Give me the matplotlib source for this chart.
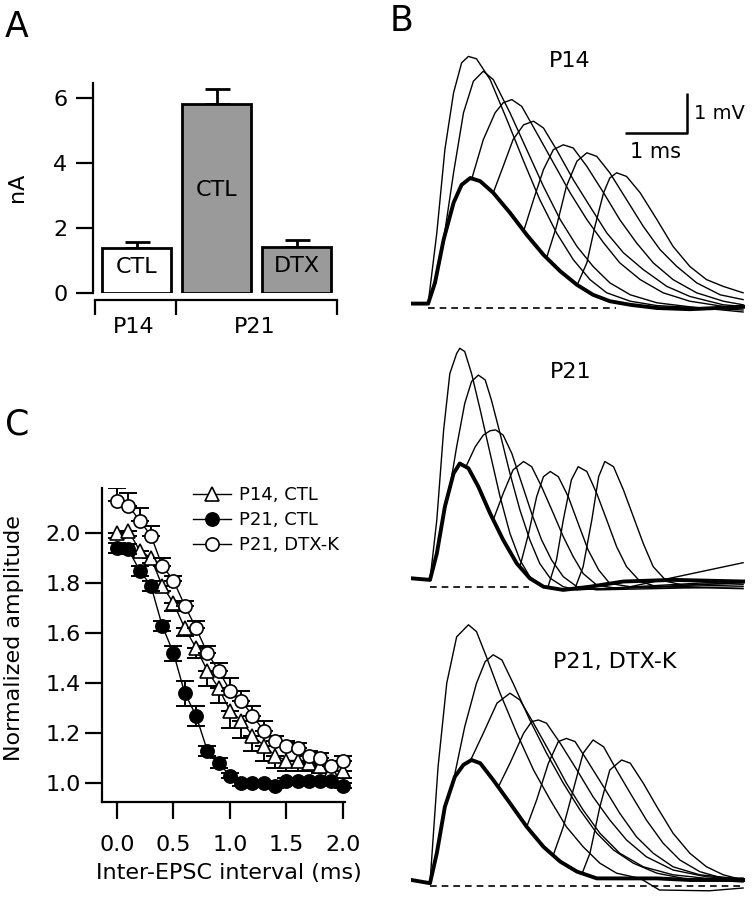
import matplotlib.pyplot as plt

# ---- panel A: peak K current ----
bar_labels = ['CTL', 'CTL', 'DTX']
bar_values = [1.375, 5.815, 1.425]
bar_errors = [0.185, 0.455, 0.205]
bar_colors = ['white', '#9a9a9a', '#9a9a9a']
bar_label_y = [0.8, 3.17, 0.83]
group_names = ['P14', 'P21']
group_centers = [-0.04, 1.48]

# ---- panel C: paired-pulse summation ----
interval_ms = [0.0, 0.1, 0.2, 0.3, 0.4, 0.5, 0.6, 0.7, 0.8, 0.9, 1.0,
               1.1, 1.2, 1.3, 1.4, 1.5, 1.6, 1.7, 1.8, 1.9, 2.0]
p14_ctl = [2.00, 2.01, 1.93, 1.90, 1.79, 1.72, 1.62, 1.54, 1.45, 1.38, 1.29,
           1.25, 1.19, 1.15, 1.11, 1.09, 1.09, 1.08, 1.07, 1.05, 1.05]
p14_ctl_err = [0.02, 0.02, 0.02, 0.02, 0.02, 0.03, 0.03, 0.04, 0.06, 0.06, 0.07,
               0.07, 0.06, 0.06, 0.05, 0.04, 0.04, 0.03, 0.03, 0.03, 0.03]
p21_ctl = [1.94, 1.935, 1.85, 1.79, 1.63, 1.52, 1.36, 1.27, 1.13, 1.08, 1.03,
           1.00, 1.00, 1.00, 0.99, 1.01, 1.01, 1.01, 1.01, 1.01, 0.99]
p21_ctl_err = [0.02, 0.02, 0.02, 0.02, 0.02, 0.03, 0.05, 0.04, 0.02, 0.02, 0.01,
               0.01, 0.01, 0.01, 0.01, 0.01, 0.01, 0.01, 0.01, 0.01, 0.01]
p21_dtx = [2.13, 2.11, 2.05, 1.99, 1.87, 1.81, 1.71, 1.62, 1.52, 1.45, 1.37,
           1.33, 1.27, 1.21, 1.17, 1.15, 1.14, 1.11, 1.10, 1.07, 1.09]
p21_dtx_err = [0.05, 0.05, 0.05, 0.04, 0.03, 0.02, 0.02, 0.03, 0.03, 0.03, 0.05,
               0.04, 0.04, 0.04, 0.02, 0.02, 0.02, 0.02, 0.02, 0.02, 0.02]

# ---- panel B: EPSP traces (ms, mV) ----
p14_single_t = [-0.30, -0.03, 0.08, 0.22, 0.38, 0.51, 0.65, 0.81, 1.02, 1.29, 1.56,
                1.83, 2.10, 2.37, 2.63, 2.90, 3.23, 3.66, 4.19, 5.05]
p14_single_v = [0.11, 0.11, 0.63, 1.71, 2.63, 3.08, 3.25, 3.17, 2.88, 2.38, 1.83,
                1.33, 0.92, 0.58, 0.33, 0.17, 0.08, 0.00, -0.03, 0.03]
p14_pair_t = [
    [-0.03, 0.11, 0.24, 0.38, 0.51, 0.62, 0.75, 0.97, 1.24, 1.51, 1.77, 2.04, 2.31, 2.58, 2.85, 3.23, 3.66, 5.05],
    [0.22, 0.38, 0.54, 0.70, 0.86, 1.02, 1.29, 1.56, 1.83, 2.10, 2.37, 2.63, 2.90, 3.23, 3.66, 4.19, 5.05],
    [0.67, 0.86, 1.05, 1.18, 1.32, 1.48, 1.72, 1.99, 2.26, 2.53, 2.80, 3.06, 3.39, 3.76, 4.19, 4.73, 5.05],
    [1.02, 1.18, 1.34, 1.51, 1.67, 1.83, 2.04, 2.31, 2.58, 2.85, 3.12, 3.44, 3.82, 4.19, 4.73, 5.05],
    [1.51, 1.67, 1.83, 1.99, 2.15, 2.31, 2.53, 2.80, 3.06, 3.33, 3.60, 3.92, 4.30, 4.73, 5.05],
    [1.88, 2.04, 2.20, 2.37, 2.53, 2.69, 2.90, 3.17, 3.44, 3.71, 3.98, 4.30, 4.68, 5.05],
    [2.37, 2.53, 2.66, 2.80, 2.90, 3.01, 3.17, 3.39, 3.66, 3.92, 4.19, 4.46, 4.73, 5.05],
]
p14_pair_v = [
    [0.11, 1.88, 3.96, 5.38, 6.13, 6.29, 6.23, 5.71, 4.71, 3.67, 2.71, 1.88, 1.21, 0.71, 0.38, 0.17, 0.06, -0.05],
    [1.71, 3.38, 4.88, 5.67, 5.92, 5.71, 4.88, 3.96, 3.04, 2.21, 1.54, 1.04, 0.63, 0.33, 0.13, 0.03, -0.10],
    [3.21, 4.21, 4.88, 5.13, 5.21, 5.04, 4.38, 3.63, 2.88, 2.21, 1.63, 1.13, 0.71, 0.38, 0.17, 0.04, 0.00],
    [2.88, 3.54, 4.21, 4.58, 4.67, 4.50, 3.96, 3.21, 2.54, 1.88, 1.38, 0.96, 0.54, 0.29, 0.08, 0.04],
    [1.92, 2.71, 3.46, 3.96, 4.08, 4.00, 3.54, 2.88, 2.21, 1.63, 1.13, 0.71, 0.38, 0.17, 0.08],
    [1.25, 2.04, 3.04, 3.67, 3.88, 3.79, 3.38, 2.71, 2.04, 1.46, 1.04, 0.63, 0.33, 0.21],
    [0.56, 1.13, 2.04, 2.88, 3.25, 3.38, 3.29, 2.88, 2.21, 1.54, 1.04, 0.71, 0.54, 0.38],
]

p21_single_t = [-0.30, 0.00, 0.11, 0.24, 0.38, 0.48, 0.62, 0.78, 0.97, 1.18, 1.40,
                1.61, 1.83, 2.15, 2.58, 3.12, 3.92, 5.05]
p21_single_v = [0.21, 0.17, 0.83, 2.00, 2.83, 3.08, 2.96, 2.50, 1.83, 1.17, 0.58,
                0.21, 0.00, -0.08, 0.00, 0.13, 0.17, 0.13]
p21_pair_t = [
    [0.00, 0.11, 0.22, 0.32, 0.43, 0.48, 0.56, 0.67, 0.81, 0.97, 1.13, 1.29, 1.45, 1.61, 1.83, 2.15, 5.05],
    [0.30, 0.43, 0.56, 0.67, 0.78, 0.89, 0.99, 1.13, 1.29, 1.45, 1.61, 1.77, 1.94, 2.15, 2.37, 5.05],
    [0.58, 0.73, 0.86, 0.97, 1.06, 1.18, 1.32, 1.48, 1.64, 1.80, 1.96, 2.15, 2.37, 2.69, 5.05],
    [1.02, 1.18, 1.34, 1.51, 1.64, 1.80, 1.99, 2.15, 2.31, 2.47, 2.69, 3.01, 5.05],
    [1.45, 1.59, 1.72, 1.83, 1.94, 2.07, 2.23, 2.39, 2.55, 2.72, 2.90, 3.23, 5.05],
    [1.91, 2.04, 2.15, 2.28, 2.39, 2.53, 2.69, 2.85, 3.01, 3.17, 3.39, 3.66, 5.05],
    [2.34, 2.47, 2.61, 2.72, 2.82, 2.96, 3.12, 3.28, 3.44, 3.60, 3.82, 4.09, 5.05],
]
p21_pair_v = [
    [0.17, 1.67, 3.92, 5.33, 5.83, 5.96, 5.88, 5.33, 4.42, 3.33, 2.25, 1.33, 0.67, 0.25, 0.00, -0.08, 0.05],
    [2.29, 3.50, 4.58, 5.13, 5.29, 5.17, 4.67, 3.83, 2.83, 1.92, 1.17, 0.58, 0.21, 0.00, -0.08, 0.15],
    [3.00, 3.50, 3.79, 3.90, 3.92, 3.79, 3.33, 2.58, 1.83, 1.17, 0.67, 0.25, 0.00, -0.08, 0.00],
    [1.67, 2.33, 2.92, 3.13, 3.00, 2.50, 1.83, 1.25, 0.75, 0.33, 0.04, -0.04, 0.10],
    [0.50, 1.33, 2.25, 2.75, 2.88, 2.75, 2.25, 1.58, 0.92, 0.42, 0.08, 0.00, 0.60],
    [0.03, 0.67, 1.67, 2.67, 3.00, 2.88, 2.33, 1.67, 1.00, 0.50, 0.13, 0.00, -0.05],
    [-0.04, 0.50, 1.67, 2.75, 3.13, 3.00, 2.42, 1.75, 1.08, 0.50, 0.13, 0.04, 0.10],
]

dtx_single_t = [-0.30, 0.00, 0.11, 0.24, 0.40, 0.54, 0.67, 0.81, 1.02, 1.29, 1.56,
                1.83, 2.10, 2.37, 2.69, 3.12, 3.66, 4.19, 5.05]
dtx_single_v = [0.15, 0.07, 0.82, 1.98, 2.73, 3.03, 3.15, 3.07, 2.65, 2.07, 1.48,
                0.98, 0.61, 0.36, 0.19, 0.19, 0.19, 0.15, 0.15]
dtx_pair_t = [
    [0.00, 0.13, 0.27, 0.43, 0.62, 0.75, 0.91, 1.13, 1.40, 1.67, 1.94, 2.20, 2.47, 2.74, 3.01, 3.39, 3.70, 4.50, 5.05],
    [0.38, 0.56, 0.75, 0.89, 1.02, 1.16, 1.34, 1.61, 1.88, 2.15, 2.42, 2.69, 2.96, 3.28, 3.66, 4.09, 5.05],
    [0.65, 0.86, 1.08, 1.29, 1.45, 1.67, 1.94, 2.20, 2.47, 2.74, 3.06, 3.44, 3.92, 4.46, 5.05],
    [1.10, 1.29, 1.51, 1.64, 1.75, 1.88, 2.10, 2.37, 2.63, 2.90, 3.17, 3.49, 3.92, 4.46, 5.05],
    [1.56, 1.72, 1.91, 2.07, 2.20, 2.34, 2.53, 2.80, 3.06, 3.33, 3.60, 3.92, 4.35, 5.05],
    [1.99, 2.15, 2.31, 2.47, 2.63, 2.80, 3.01, 3.23, 3.49, 3.76, 4.03, 4.35, 4.73, 5.05],
    [2.45, 2.58, 2.74, 2.90, 3.09, 3.23, 3.44, 3.66, 3.92, 4.19, 4.46, 4.73, 5.05],
]
dtx_pair_v = [
    [0.07, 2.98, 5.07, 6.23, 6.53, 6.36, 5.73, 4.82, 3.82, 2.90, 2.15, 1.48, 0.98, 0.57, 0.32, 0.19, -0.10, -0.12, -0.05],
    [2.65, 3.98, 5.07, 5.61, 5.78, 5.65, 5.07, 4.15, 3.32, 2.57, 1.90, 1.32, 0.90, 0.57, 0.32, 0.19, 0.10],
    [3.13, 3.82, 4.57, 4.82, 4.65, 4.07, 3.32, 2.57, 1.90, 1.32, 0.82, 0.48, 0.28, 0.19, 0.20],
    [2.47, 3.07, 3.82, 4.11, 4.15, 4.07, 3.57, 2.90, 2.23, 1.65, 1.15, 0.73, 0.40, 0.23, 0.17],
    [1.48, 2.15, 3.07, 3.61, 3.69, 3.61, 3.15, 2.48, 1.82, 1.23, 0.82, 0.48, 0.28, 0.17],
    [0.78, 1.48, 2.40, 3.32, 3.65, 3.48, 2.90, 2.32, 1.65, 1.07, 0.65, 0.36, 0.19, 0.15],
    [0.30, 0.82, 1.98, 2.90, 3.15, 3.07, 2.57, 1.98, 1.32, 0.82, 0.48, 0.28, 0.15],
]

trace_titles = ['P14', 'P21', 'P21, DTX-K']
title_pos = [(2.26, 6.18), (2.27, 5.37), (2.98, 5.60)]
baseline_span = [(-0.03, 3.0), (0.0, 1.6), (0.0, 5.0)]

FS = 16
fig = plt.figure(figsize=(7.53, 8.99), dpi=100)

# ================= A =================
axA = fig.add_axes([93 / 753, 1 - 293 / 899, 244 / 753, 210 / 899])
xs = [0, 1, 2]
axA.bar(xs, bar_values, width=0.86, color=bar_colors, edgecolor='black',
        linewidth=2, zorder=2)
axA.errorbar(xs, bar_values, yerr=[[0, 0, 0], bar_errors], fmt='none',
             ecolor='black', elinewidth=2, capsize=9, capthick=2, zorder=1)
for x, lab, y in zip(xs, bar_labels, bar_label_y):
    axA.text(x, y, lab, ha='center', va='center', fontsize=FS)
axA.set_xlim(-0.544, 2.506)
axA.set_ylim(0, 6.46)
axA.spines['top'].set_visible(False)
axA.spines['right'].set_visible(False)
axA.spines['left'].set_linewidth(1.6)
axA.spines['bottom'].set_linewidth(1.6)
axA.spines['bottom'].set_position(('outward', 5))
axA.spines['bottom'].set_bounds(-0.52, 2.5)
axA.set_xticks([-0.52, 0.49, 2.5])
axA.set_xticklabels([])
axA.tick_params(axis='x', length=11, width=1.6)
axA.set_yticks([0, 2, 4, 6])
axA.tick_params(axis='y', length=12.5, width=1.6, pad=6, labelsize=FS)
for gx, gn in zip(group_centers, group_names):
    axA.text(gx, -0.162, gn, transform=axA.get_xaxis_transform(),
             ha='center', va='center', fontsize=FS)
axA.text(-0.31, 0.505, 'nA', transform=axA.transAxes, rotation=90,
         ha='center', va='center', fontsize=FS)

# ================= C =================
axC = fig.add_axes([102 / 753, 1 - 802 / 899, 252 / 753, 314 / 899])
zero = [0] * len(interval_ms)
axC.errorbar(interval_ms, p14_ctl, yerr=[p14_ctl_err, zero], fmt='none',
             ecolor='black', elinewidth=1.4, capsize=6.5, capthick=1.4)
axC.plot(interval_ms, p14_ctl, '-^', color='black', lw=1, ms=9.5,
         mfc='white', mec='black', mew=1.2, label='P14, CTL')
axC.errorbar(interval_ms, p21_ctl, yerr=p21_ctl_err, fmt='none',
             ecolor='black', elinewidth=1.4, capsize=6.5, capthick=1.4)
axC.plot(interval_ms, p21_ctl, '-o', color='black', lw=1, ms=9.5,
         mfc='black', mec='black', mew=1.2, label='P21, CTL')
axC.errorbar(interval_ms, p21_dtx, yerr=[zero, p21_dtx_err], fmt='none',
             ecolor='black', elinewidth=1.4, capsize=6.5, capthick=1.4)
axC.plot(interval_ms, p21_dtx, '-o', color='black', lw=1, ms=9.5,
         mfc='white', mec='black', mew=1.2, label='P21, DTX-K')
axC.set_xlim(-0.133, 2.1)
axC.set_ylim(0.924, 2.18)
axC.spines['top'].set_visible(False)
axC.spines['right'].set_visible(False)
axC.spines['left'].set_linewidth(1.6)
axC.spines['bottom'].set_linewidth(1.6)
axC.spines['bottom'].set_bounds(-0.133, 2.02)
axC.set_xticks([0.0, 0.5, 1.0, 1.5, 2.0])
axC.set_xticklabels(['0.0', '0.5', '1.0', '1.5', '2.0'])
axC.set_yticks([1.0, 1.2, 1.4, 1.6, 1.8, 2.0])
axC.set_yticklabels(['1.0', '1.2', '1.4', '1.6', '1.8', '2.0'])
axC.tick_params(axis='x', length=12, width=1.6, pad=12, labelsize=FS)
axC.tick_params(axis='y', length=12, width=1.6, pad=3.5, labelsize=FS)
axC.text(-0.349, 0.522, 'Normalized amplitude', transform=axC.transAxes,
         rotation=90, ha='center', va='center', fontsize=FS)
axC.text(0.504, -0.226, 'Inter-EPSC interval (ms)', transform=axC.transAxes,
         ha='center', va='center', fontsize=FS)
axC.legend(loc='upper left', bbox_to_anchor=(0.36, 1.005), frameon=False,
           fontsize=13, handlelength=2.1, handletextpad=0.45,
           labelspacing=0.38, borderpad=0, borderaxespad=0)

# ================= B =================
panels = [
    (p14_single_t, p14_single_v, p14_pair_t, p14_pair_v, 1 - 320 / 899),
    (p21_single_t, p21_single_v, p21_pair_t, p21_pair_v, 1 - 598.7 / 899),
    (dtx_single_t, dtx_single_v, dtx_pair_t, dtx_pair_v, 1 - 898 / 899),
]
for i, (st, sv, pts, pvs, bottom) in enumerate(panels):
    ax = fig.add_axes([411.4 / 753, bottom, 334.8 / 753, 290 / 899])
    ax.set_xlim(-0.3, 5.1)
    ax.set_ylim(-0.3, 6.95)
    ax.axis('off')
    b0, b1 = baseline_span[i]
    ax.plot([b0, b1], [0, 0], color='black', lw=1.2, ls=(0, (4, 3)))
    for t, v in zip(pts, pvs):
        ax.plot(t, v, color='black', lw=1.0)
    ax.plot(st, sv, color='black', lw=2.8)
    tx, ty = title_pos[i]
    ax.text(tx, ty, trace_titles[i], ha='center', va='center', fontsize=FS)
    if i == 0:
        ax.plot([3.145, 4.145, 4.145], [4.375, 4.375, 5.375], color='black',
                lw=1.8, solid_capstyle='butt')
        ax.text(4.25, 4.875, '1 mV', ha='left', va='center', fontsize=14)
        ax.text(3.63, 3.9, '1 ms', ha='center', va='center', fontsize=15)

# panel letters
fig.text(5 / 753, 1 - 10 / 899, 'A', fontsize=25, ha='left', va='top')
fig.text(390 / 753, 1 - 4 / 899, 'B', fontsize=25, ha='left', va='top')
fig.text(5 / 753, 1 - 408 / 899, 'C', fontsize=25, ha='left', va='top')

fig.savefig('out.png', dpi=100)
plt.close(fig)
